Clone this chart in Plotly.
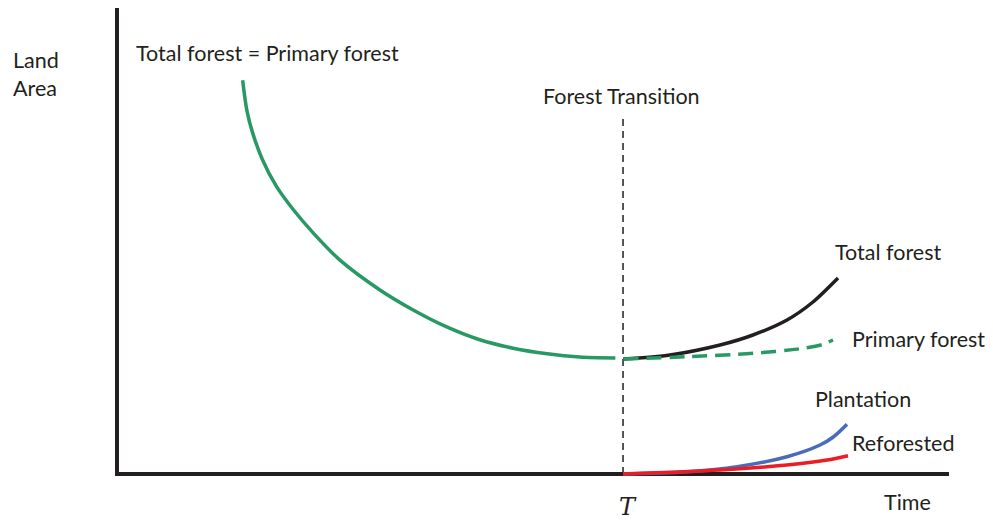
import plotly.graph_objects as go

# Time (0-100) and land area (0-100)
early_t = [15.1, 15.6, 16.3, 17.5, 19.2, 21.2, 23.6, 26.8, 31.6, 35.6, 39.7, 43.6, 47.6, 51.7, 55.6, 59.9]
early_area = [84.5, 78.1, 73.2, 67.4, 61.6, 56.7, 51.7, 45.9, 39.5, 35.2, 31.5, 28.8, 27.0, 25.8, 25.1, 24.9]

total_t = [60.85, 66.47, 72.48, 76.44, 80.53, 83.65, 86.66]
total_area = [24.68, 25.54, 27.68, 29.83, 33.05, 36.91, 42.06]

primary_t = [60.85, 68.51, 76.44, 82.45, 84.86, 86.06]
primary_area = [24.68, 25.17, 25.90, 26.97, 27.83, 28.76]

plant_t = [60.82, 68.51, 74.52, 80.53, 84.50, 86.09, 87.74]
plant_area = [0.0, 0.49, 1.57, 3.71, 6.22, 7.94, 10.67]

refor_t = [60.82, 72.48, 80.53, 85.34, 87.86]
refor_area = [0.0, 0.86, 1.93, 3.00, 3.93]

transition_t = 60.82
transition_top = 76.8
axis_x_end = 100.0
axis_y_end = 100.0

GREEN = "#289964"
BLACK = "#231f20"
BLUE = "#4a6bb8"
RED = "#ed1c24"
FONT = "Lato"
FS = 21.5

fig = go.Figure()
fig.add_trace(go.Scatter(x=early_t, y=early_area, mode="lines",
                         line=dict(color=GREEN, width=3.5, shape="spline", smoothing=0.8)))
fig.add_trace(go.Scatter(x=total_t, y=total_area, mode="lines",
                         line=dict(color=BLACK, width=3.5, shape="spline", smoothing=0.8)))
fig.add_trace(go.Scatter(x=primary_t, y=primary_area, mode="lines",
                         line=dict(color=GREEN, width=3.5, shape="spline", smoothing=0.8, dash="15px,8px")))
fig.add_trace(go.Scatter(x=plant_t, y=plant_area, mode="lines",
                         line=dict(color=BLUE, width=3.5, shape="spline", smoothing=1.0)))
fig.add_trace(go.Scatter(x=refor_t, y=refor_area, mode="lines",
                         line=dict(color=RED, width=3.5, shape="spline", smoothing=0.8)))

# axes
fig.add_shape(type="line", x0=0, x1=0, y0=-0.43, y1=axis_y_end, xref="x", yref="y",
              line=dict(color=BLACK, width=4), layer="below")
fig.add_shape(type="line", x0=-0.24, x1=axis_x_end, y0=0, y1=0, xref="x", yref="y",
              line=dict(color=BLACK, width=4), layer="below")
# forest transition marker
fig.add_shape(type="line", x0=transition_t, x1=transition_t, y0=0, y1=transition_top,
              xref="x", yref="y", line=dict(color=BLACK, width=1.5, dash="7px,5px"), layer="below")

def label(text, x, y, size=FS, xanchor="left", family=FONT):
    fig.add_annotation(x=x, y=y, xref="x", yref="y", text=text, showarrow=False,
                       xanchor=xanchor, yanchor="middle", align="left",
                       font=dict(family=family, size=size, color=BLACK))

label("Land<br>Area", -12.7, 85.9)
label("Total forest = Primary forest", 2.1, 90.3)
label("Forest Transition", 60.6, 81.1, xanchor="center")
label("Total forest", 86.0, 47.6)
label("Primary forest", 88.1, 29.0)
label("Plantation", 83.7, 16.1)
label("Reforested", 88.1, 6.7)
label("Time", 91.9, -6.0)
label("<i>T</i>", 61.4, -7.1, size=24, xanchor="center", family="DejaVu Serif")

fig.update_layout(
    width=993, height=520,
    margin=dict(l=0, r=0, t=0, b=0, pad=0),
    paper_bgcolor="white", plot_bgcolor="white",
    showlegend=False,
    xaxis=dict(range=[-14.063, 105.288], visible=False, fixedrange=True),
    yaxis=dict(range=[-9.871, 101.717], visible=False, fixedrange=True),
)

fig.write_html("out.html", config={"displayModeBar": False},
               post_script="document.body.style.margin='0';document.body.style.overflow='hidden';")
